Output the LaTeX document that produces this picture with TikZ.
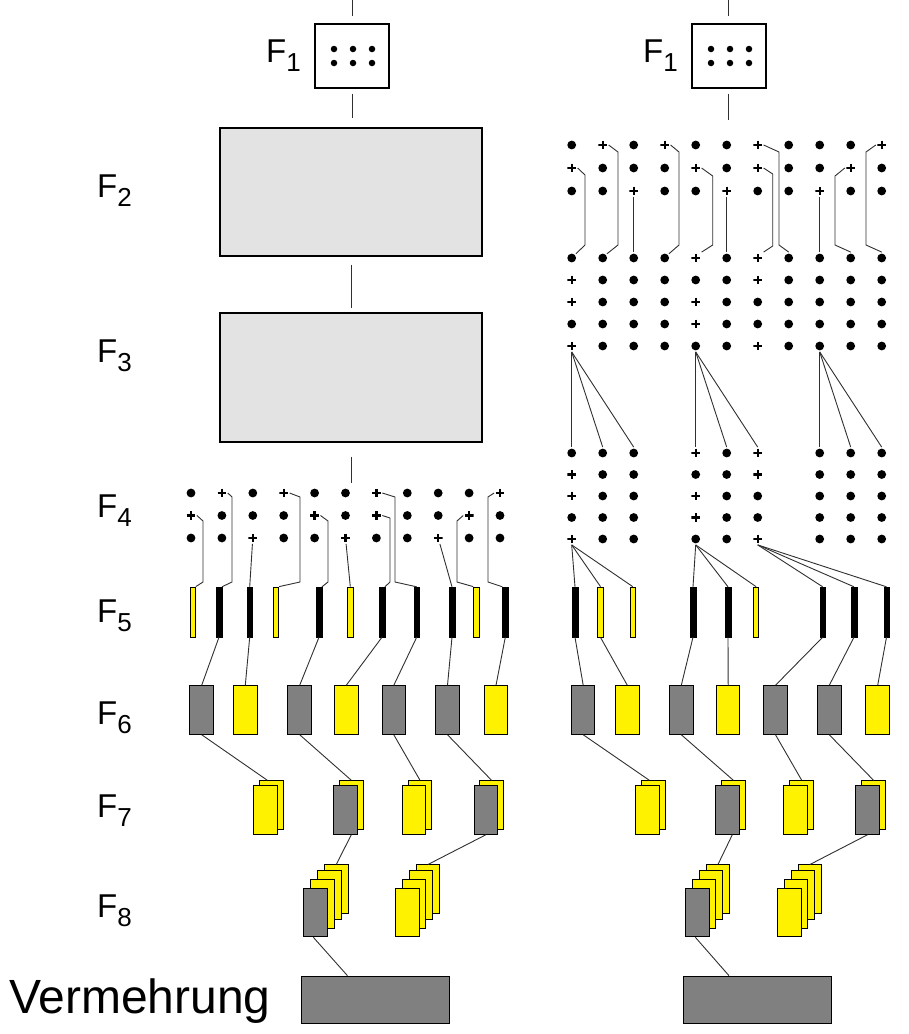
\documentclass[tikz,border=0pt]{standalone}
\usepackage{fontspec}
\setmainfont{Liberation Sans}

\definecolor{boxgray}{HTML}{808080}
\definecolor{panelgray}{HTML}{E3E3E3}
\definecolor{wiregray}{HTML}{303030}

\newcommand{\flabel}[1]{F\raisebox{-9pt}{\fontsize{26}{26}\selectfont #1}}

\begin{document}
\begin{tikzpicture}[x=1pt, y=-1pt]
    \tikzstyle{wire}=[draw=wiregray, line width=0.9pt]
    \tikzstyle{gdot}=[circle, fill=black, inner sep=0pt, minimum size=8.8pt, outer sep=1.5pt]
    \tikzstyle{gplus}=[rectangle, inner sep=0pt, minimum size=8.8pt, outer sep=1.5pt,
        path picture={\draw[line width=2.3pt]
            (path picture bounding box.north) -- (path picture bounding box.south)
            (path picture bounding box.west) -- (path picture bounding box.east);}]
    \tikzstyle{small dot}=[circle, fill=black, inner sep=0pt, minimum size=6.5pt]
    \tikzstyle{panel}=[draw=black, line width=1.2pt, fill=panelgray, inner sep=0pt]
    \tikzstyle{black bar}=[draw=black, fill=black, minimum width=5.5pt, minimum height=50pt, inner sep=0pt]
    \tikzstyle{yellow bar}=[draw=black, line width=0.8pt, fill=yellow, minimum width=5.5pt, minimum height=50pt, inner sep=0pt]
    \tikzstyle{gray box}=[draw=black, line width=1pt, fill=boxgray, minimum width=23.5pt, minimum height=48.5pt, inner sep=0pt]
    \tikzstyle{yellow box}=[gray box, fill=yellow]
    \tikzstyle{row label}=[anchor=base west, inner sep=0pt, font=\fontsize{33}{36}\selectfont]

    \useasboundingbox (0,0) rectangle (909,1034);

    % row labels
    \node[row label] (F1L) at (266,62)  {\flabel{1}};
    \node[row label] (F1R) at (643,62)  {\flabel{1}};
    \node[row label] (F2)  at (97,197)  {\flabel{2}};
    \node[row label] (F3)  at (97,362)  {\flabel{3}};
    \node[row label] (F4)  at (97,517)  {\flabel{4}};
    \node[row label] (F5)  at (97,622)  {\flabel{5}};
    \node[row label] (F6)  at (97,724)  {\flabel{6}};
    \node[row label] (F7)  at (97,817)  {\flabel{7}};
    \node[row label] (F8)  at (97,917)  {\flabel{8}};
    \node[anchor=base west, inner sep=0pt, font=\fontsize{48}{50}\selectfont] (verm) at (9,1013) {Vermehrung};

    %%% left half
    \node[panel, fill=white, minimum width=74pt, minimum height=64pt] (L1) at (352,56) {};
    \foreach \x in {334,353,372}
        \foreach \y in {49,63}
            \node[small dot] (L1-\x-\y) at (\x,\y) {};
    \node[panel, minimum width=262pt, minimum height=128pt] (L2) at (351,192) {};
    \node[panel, minimum width=262pt, minimum height=129pt] (L3) at (351,377.5) {};

    % F4 grid
    \foreach \c/\col in {1/{gdot,gplus,gdot}, 2/{gplus,gdot,gdot}, 3/{gdot,gdot,gplus},
                         4/{gplus,gdot,gdot}, 5/{gdot,gplus,gdot}, 6/{gdot,gdot,gplus},
                         7/{gplus,gplus,gdot}, 8/{gdot,gdot,gdot}, 9/{gdot,gdot,gplus},
                         10/{gdot,gplus,gdot}, 11/{gplus,gdot,gdot}}
        \foreach \s [count=\r] in \col
            \node[\s] (L4-\c-\r) at ({191+30.9*(\c-1)}, {493+22.5*(\r-1)}) {};

    \coordinate (L1-in) at (352,0);
    \draw[wire, shorten >=7pt] (L1-in) -- (L1.north);
    \draw[wire, shorten <=5pt, shorten >=9pt] (L1.south) -- (L1.south |- L2.north);
    \draw[wire, shorten <=8pt, shorten >=4pt] (L2.south) -- (L2.south |- L3.north);
    \draw[wire, shorten <=14pt, shorten >=4pt] (L3.south) -- (L3.south |- L4-6-1.north);

    % F5 bars
    \node[yellow bar] (L5-1)  at (192.7,612) {};
    \node[black bar]  (L5-2)  at (219,612)   {};
    \node[black bar]  (L5-3)  at (249.7,612) {};
    \node[yellow bar] (L5-4)  at (276,612)   {};
    \node[black bar]  (L5-5)  at (319,612)   {};
    \node[yellow bar] (L5-6)  at (350.3,612) {};
    \node[black bar]  (L5-7)  at (382,612)   {};
    \node[black bar]  (L5-8)  at (416.7,612) {};
    \node[black bar]  (L5-9)  at (452,612)   {};
    \node[yellow bar] (L5-10) at (476.3,612) {};
    \node[black bar]  (L5-11) at (505.3,612) {};

    \draw[wire] (L4-1-2.east) -- (203,521) -- (203,582) -- (L5-1.north east);
    \draw[wire] (L4-2-1.east) -- (232,497) -- (232,582) -- (L5-2.north east);
    \draw[wire] (L4-3-3) -- (L5-3.north);
    \draw[wire] (L4-4-1.east) -- (300,497) -- (300,582) -- (L5-4.north east);
    \draw[wire] (L4-5-2.east) -- (328,521) -- (328,582) -- (L5-5.north east);
    \draw[wire] (L4-6-3) -- (L5-6.north);
    \draw[wire] (L4-7-1.east) -- (395,497) -- (395,582) -- (L5-8.north);
    \draw[wire] (L4-7-2.east) -- (390,518) -- (390,582) -- (L5-7.north east);
    \draw[wire] (L4-9-3) -- (L5-9.north);
    \draw[wire] (L4-10-2.west) -- (457,521) -- (457,582) -- (L5-10.north west);
    \draw[wire] (L4-11-1.west) -- (488,497) -- (488,582) -- (L5-11.north west);

    % F6 boxes
    \node[gray box]   (L6-1) at (201.7,710) {};
    \node[yellow box] (L6-2) at (245.3,710) {};
    \node[gray box]   (L6-3) at (299.7,710) {};
    \node[yellow box] (L6-4) at (346.3,710) {};
    \node[gray box]   (L6-5) at (393.8,710) {};
    \node[gray box]   (L6-6) at (447.5,710) {};
    \node[yellow box] (L6-7) at (496,710)   {};

    \path[wire] (L5-2.south)  edge (L6-1.north);
    \path[wire] (L5-3.south)  edge (L6-2.north);
    \path[wire] (L5-5.south)  edge (L6-3.north);
    \path[wire] (L5-7.south)  edge (L6-4.north);
    \path[wire] (L5-8.south)  edge (L6-5.north);
    \path[wire] (L5-9.south)  edge (L6-6.north);
    \path[wire] (L5-11.south) edge (L6-7.north);

    % F7 pairs
    \node[yellow box] (L7-1b) at (271.3,805) {};
    \node[yellow box] (L7-1f) at (265.5,810) {};
    \node[yellow box] (L7-2b) at (351.3,805) {};
    \node[gray box]   (L7-2f) at (345.3,810) {};
    \node[yellow box] (L7-3b) at (420,805)   {};
    \node[yellow box] (L7-3f) at (414,810)   {};
    \node[yellow box] (L7-4b) at (491.5,805) {};
    \node[gray box]   (L7-4f) at (485.9,810) {};

    \path[wire] (L6-1.south) edge ([xshift=-4pt]L7-1b.north);
    \path[wire] (L6-3.south) edge (L7-2b.north);
    \path[wire] (L6-5.south) edge (L7-3b.north);
    \path[wire] (L6-6.south) edge (L7-4b.north);

    % F8 stacks
    \node[yellow box] (L8-1a) at (336.3,889.2) {};
    \node[yellow box] (L8-1b) at (329.3,895.2) {};
    \node[yellow box] (L8-1c) at (322.3,903.8) {};
    \node[gray box]   (L8-1d) at (315.3,912.5) {};
    \node[yellow box] (L8-2a) at (428,889.2)   {};
    \node[yellow box] (L8-2b) at (421,895.2)   {};
    \node[yellow box] (L8-2c) at (414,903.8)   {};
    \node[yellow box] (L8-2d) at (407.3,912.5) {};

    \path[wire] ([xshift=6pt]L7-2f.south) edge (L8-1a.north);
    \path[wire] (L7-4f.south) edge (L8-2a.north);

    \node[gray box, minimum width=148pt, minimum height=47pt] (LV) at (375.5,999.7) {};
    \path[wire] ([xshift=-2pt]L8-1d.south) edge ([xshift=-28pt]LV.north);

    %%% right half
    \node[panel, fill=white, minimum width=74pt, minimum height=64pt] (R1) at (729,56) {};
    \foreach \x in {711,730,749}
        \foreach \y in {49,63}
            \node[small dot] (R1-\x-\y) at (\x,\y) {};
    \coordinate (R1-in) at (728,0);
    \coordinate (R1-out) at (728,120);
    \draw[wire, shorten >=7pt] (R1-in) -- (R1-in |- R1.north);
    \draw[wire, shorten <=5pt] (R1-out |- R1.south) -- (R1-out);

    % F2 grid
    \foreach \c/\col in {1/{gdot,gplus,gdot}, 2/{gplus,gdot,gdot}, 3/{gdot,gdot,gplus},
                         4/{gplus,gdot,gdot}, 5/{gdot,gplus,gdot}, 6/{gdot,gdot,gplus},
                         7/{gplus,gplus,gdot}, 8/{gdot,gdot,gdot}, 9/{gdot,gdot,gplus},
                         10/{gdot,gplus,gdot}, 11/{gplus,gdot,gdot}}
        \foreach \s [count=\r] in \col
            \node[\s] (R2-\c-\r) at ({571.7+31*(\c-1)}, {145+23*(\r-1)}) {};

    % F3 grid
    \foreach \c/\col in {1/{gdot,gplus,gplus,gdot,gplus}, 2/{gdot,gdot,gdot,gdot,gdot},
                         3/{gdot,gdot,gdot,gdot,gdot}, 4/{gdot,gdot,gdot,gdot,gdot},
                         5/{gplus,gdot,gplus,gplus,gdot}, 6/{gdot,gdot,gdot,gdot,gdot},
                         7/{gplus,gplus,gdot,gdot,gplus}, 8/{gdot,gdot,gdot,gdot,gdot},
                         9/{gdot,gdot,gdot,gdot,gdot}, 10/{gdot,gdot,gdot,gdot,gdot},
                         11/{gdot,gdot,gdot,gdot,gdot}}
        \foreach \s [count=\r] in \col
            \node[\s] (R3-\c-\r) at ({571.7+31*(\c-1)}, {258+22*(\r-1)}) {};

    \draw[wire] (R2-1-2.east) -- (585,175) -- (585,245) -- (R3-1-1.north east);
    \draw[wire] (R2-2-1.east) -- (618,152) -- (618,245) -- (R3-2-1.north east);
    \draw[wire] (R2-3-3) -- (R3-3-1);
    \draw[wire] (R2-4-1.east) -- (679,152) -- (679,245) -- (R3-4-1.north east);
    \draw[wire] (R2-5-2.east) -- (712.7,176) -- (712.7,245) -- (R3-5-1.north east);
    \draw[wire] (R2-6-3) -- (R3-6-1);
    \draw[wire] (R2-7-1.east) -- (779,152) -- (779,245) -- (R3-8-1.north);
    \draw[wire] (R2-7-2.east) -- (772.7,174) -- (772.7,246) -- (R3-7-1.north east);
    \draw[wire] (R2-9-3) -- (R3-9-1);
    \draw[wire] (R2-10-2.west) -- (835,176) -- (835,245) -- (R3-10-1.north);
    \draw[wire] (R2-11-1.west) -- (866,152) -- (866,245) -- (R3-11-1.north);

    % F4 groups
    \foreach \c/\col in {1/{gdot,gplus,gplus,gdot,gplus}, 2/{gdot,gdot,gdot,gdot,gdot},
                         3/{gdot,gdot,gdot,gdot,gdot},
                         5/{gplus,gdot,gplus,gplus,gdot}, 6/{gdot,gdot,gdot,gdot,gdot},
                         7/{gplus,gplus,gdot,gdot,gplus},
                         9/{gdot,gdot,gdot,gdot,gdot}, 10/{gdot,gdot,gdot,gdot,gdot},
                         11/{gdot,gdot,gdot,gdot,gdot}}
        \foreach \s [count=\r] in \col
            \node[\s] (R4-\c-\r) at ({571.7+31*(\c-1)}, {453+21.5*(\r-1)}) {};

    \path[wire] (R3-1-5.south) edge (R4-1-1.north) edge (R4-2-1.north) edge (R4-3-1.north);
    \path[wire] (R3-5-5.south) edge (R4-5-1.north) edge (R4-6-1.north) edge (R4-7-1.north);
    \path[wire] (R3-9-5.south) edge (R4-9-1.north) edge (R4-10-1.north) edge (R4-11-1.north);

    % F5 bars
    \node[black bar]  (R5-1) at (575,612)   {};
    \node[yellow bar] (R5-2) at (600.5,612) {};
    \node[yellow bar] (R5-3) at (632.7,612) {};
    \node[black bar]  (R5-4) at (693,612)   {};
    \node[black bar]  (R5-5) at (728,612)   {};
    \node[yellow bar] (R5-6) at (756,612)   {};
    \node[black bar]  (R5-7) at (822.7,612) {};
    \node[black bar]  (R5-8) at (854,612)   {};
    \node[black bar]  (R5-9) at (886.5,612) {};

    \path[wire] (R4-1-5.south) edge (R5-1.north) edge (R5-2.north) edge (R5-3.north);
    \path[wire] (R4-5-5.south) edge (R5-4.north) edge (R5-5.north) edge (R5-6.north);
    \path[wire] (R4-7-5.south) edge (R5-7.north) edge (R5-8.north) edge (R5-9.north);

    % F6 boxes
    \node[gray box]   (R6-1) at (583.2,710) {};
    \node[yellow box] (R6-2) at (627.3,710) {};
    \node[gray box]   (R6-3) at (681.3,710) {};
    \node[yellow box] (R6-4) at (728.2,710) {};
    \node[gray box]   (R6-5) at (775.5,710) {};
    \node[gray box]   (R6-6) at (829.3,710) {};
    \node[yellow box] (R6-7) at (877.7,710) {};

    \path[wire] (R5-1.south) edge (R6-1.north);
    \path[wire] (R5-2.south) edge (R6-2.north);
    \path[wire] (R5-4.south) edge (R6-3.north);
    \path[wire] (R5-5.south) edge (R6-4.north);
    \path[wire] (R5-7.south) edge (R6-5.north);
    \path[wire] (R5-8.south) edge (R6-6.north);
    \path[wire] (R5-9.south) edge (R6-7.north);

    % F7 pairs
    \node[yellow box] (R7-1b) at (653.3,805) {};
    \node[yellow box] (R7-1f) at (647.5,810) {};
    \node[yellow box] (R7-2b) at (733.3,805) {};
    \node[gray box]   (R7-2f) at (727.3,810) {};
    \node[yellow box] (R7-3b) at (801.7,805) {};
    \node[yellow box] (R7-3f) at (795.7,810) {};
    \node[yellow box] (R7-4b) at (873.5,805) {};
    \node[gray box]   (R7-4f) at (867.5,810) {};

    \path[wire] (R6-1.south) edge ([xshift=-4pt]R7-1b.north);
    \path[wire] (R6-3.south) edge (R7-2b.north);
    \path[wire] (R6-5.south) edge (R7-3b.north);
    \path[wire] (R6-6.south) edge (R7-4b.north);

    % F8 stacks
    \node[yellow box] (R8-1a) at (718,889.2)   {};
    \node[yellow box] (R8-1b) at (711,895.2)   {};
    \node[yellow box] (R8-1c) at (704,903.8)   {};
    \node[gray box]   (R8-1d) at (697.3,912.5) {};
    \node[yellow box] (R8-2a) at (810,889.2)   {};
    \node[yellow box] (R8-2b) at (803,895.2)   {};
    \node[yellow box] (R8-2c) at (796,903.8)   {};
    \node[yellow box] (R8-2d) at (789.3,912.5) {};

    \path[wire] ([xshift=5pt]R7-2f.south) edge (R8-1a.north);
    \path[wire] (R7-4f.south) edge (R8-2a.north);

    \node[gray box, minimum width=148pt, minimum height=47pt] (RV) at (757,999.7) {};
    \path[wire] ([xshift=-2pt]R8-1d.south) edge ([xshift=-28pt]RV.north);

\end{tikzpicture}
\end{document}
